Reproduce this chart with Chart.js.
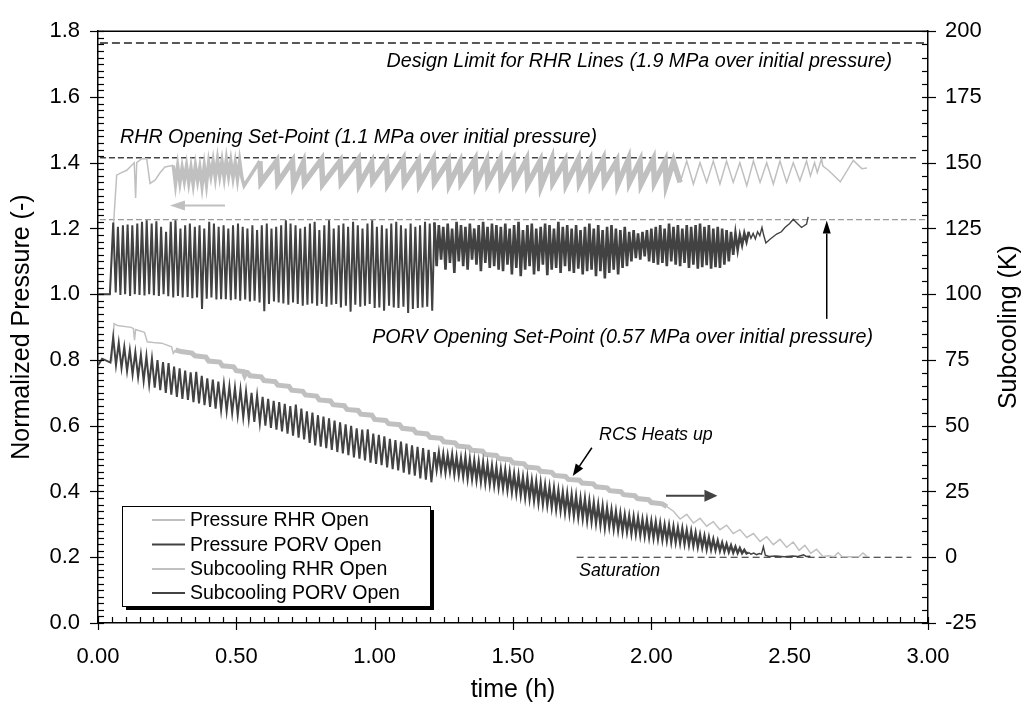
<!DOCTYPE html>
<html>
<head>
<meta charset="utf-8">
<script src="https://cdn.jsdelivr.net/npm/chart.js@4.4.0/dist/chart.umd.min.js"></script>
<style>
  html, body { margin: 0; background: #fff; }
</style>
</head>
<body>
<canvas id="chart" width="1027" height="704"></canvas>
<script>
// ---- axis ticks ----
const xTickValues = [0, 0.5, 1, 1.5, 2, 2.5, 3];
const xTickLabels = ['0.00', '0.50', '1.00', '1.50', '2.00', '2.50', '3.00'];
const pressureTickValues = [0, 0.2, 0.4, 0.6, 0.8, 1.0, 1.2, 1.4, 1.6, 1.8];
const pressureTickLabels = ['0.0', '0.2', '0.4', '0.6', '0.8', '1.0', '1.2', '1.4', '1.6', '1.8'];
const subcoolTickValues = [-25, 0, 25, 50, 75, 100, 125, 150, 175, 200];
const subcoolTickLabels = ['-25', '0', '25', '50', '75', '100', '125', '150', '175', '200'];

const seriesLabels = ['Pressure RHR Open', 'Pressure PORV Open', 'Subcooling RHR Open', 'Subcooling PORV Open'];

// ---- reference levels ----
const designLimit = 1.764;     // normalized pressure
const rhrSetPoint = 1.415;
const porvSetPoint = 1.227;
const saturation = 0;          // K

// ---- Pressure, PORV open (normalized) ----
const pressurePorvStart = [[0, 1.0], [0.043, 1.0]];
const porvTimesA = [0.055,0.064,0.072,0.081,0.090,0.098,0.107,0.116,0.124,0.133,0.142,0.150,0.159,0.168,0.176,0.185,0.194,0.202,0.211,0.220,0.228,0.237,0.246,0.254,0.263,0.272,0.280,0.289,0.298,0.306,0.315,0.324,0.332,0.341,0.350,0.358,0.367,0.376,0.384,0.393,0.402,0.410,0.419,0.428,0.436,0.445,0.454,0.462,0.471,0.480,0.488,0.497,0.506,0.514,0.523,0.532,0.540,0.549,0.558,0.566,0.575,0.584,0.592,0.601,0.610,0.618,0.627,0.636,0.644,0.653,0.662,0.670,0.679,0.688,0.696,0.705,0.714,0.722,0.731,0.740,0.748,0.757,0.766,0.774,0.783,0.792,0.800,0.809,0.818,0.826,0.835,0.844,0.852,0.861,0.870,0.878,0.887,0.896,0.904,0.913,0.922,0.930,0.939,0.948,0.956,0.965,0.974,0.982,0.991,1.000,1.008,1.017,1.026,1.034,1.043,1.052,1.060,1.069,1.078,1.086,1.095,1.104,1.112,1.121,1.130,1.138,1.147,1.156,1.164,1.173,1.182,1.190,1.199,1.208];
const pressurePorvPeaksA = [1.218,1.205,1.21,1.212,1.21,1.215,1.22,1.225,1.215,1.222,1.205,1.19,1.22,1.225,1.2,1.21,1.215,1.205,1.21,1.2,1.22,1.215,1.205,1.21,1.2,1.21,1.215,1.205,1.2,1.21,1.195,1.21,1.215,1.2,1.205,1.21,1.225,1.215,1.21,1.2,1.205,1.215,1.22,1.195,1.21,1.225,1.2,1.21,1.215,1.205,1.22,1.21,1.2,1.215,1.225,1.205,1.21,1.2,1.215,1.22,1.21,1.2,1.215,1.205,1.21,1.22,1.215];
const pressurePorvTroughsA = [1.005,0.998,1.0,0.995,1.0,0.998,0.996,1.0,0.997,0.995,1.0,0.994,0.99,0.995,0.99,0.992,0.988,0.99,0.955,0.986,0.99,0.984,0.985,0.985,0.982,0.985,0.98,0.984,0.978,0.98,0.975,0.948,0.97,0.978,0.975,0.972,0.968,0.975,0.97,0.965,0.968,0.972,0.965,0.97,0.962,0.968,0.97,0.96,0.965,0.947,0.968,0.962,0.965,0.97,0.958,0.96,0.95,0.965,0.96,0.958,0.962,0.943,0.955,0.958,0.96,0.962,0.95];
const bandTimes = [1.216,1.224,1.232,1.240,1.248,1.256,1.264,1.272,1.280,1.288,1.296,1.304,1.312,1.320,1.328,1.336,1.344,1.352,1.360,1.368,1.376,1.384,1.392,1.400,1.408,1.416,1.424,1.432,1.440,1.448,1.456,1.464,1.472,1.480,1.488,1.496,1.504,1.512,1.520,1.528,1.536,1.544,1.552,1.560,1.568,1.576,1.584,1.592,1.600,1.608,1.616,1.624,1.632,1.640,1.648,1.656,1.664,1.672,1.680,1.688,1.696,1.704,1.712,1.720,1.728,1.736,1.744,1.752,1.760,1.768,1.776,1.784,1.792,1.800,1.808,1.816,1.824,1.832,1.840,1.848,1.856,1.864,1.872,1.880,1.888,1.896,1.904,1.912,1.920,1.928,1.936,1.944,1.952,1.960,1.968,1.976,1.984,1.992,2.000,2.008,2.016,2.024,2.032,2.040,2.048,2.056,2.064,2.072,2.080,2.088,2.096,2.104,2.112,2.120,2.128,2.136,2.144,2.152,2.160,2.168,2.176,2.184,2.192,2.200,2.208,2.216,2.224,2.232,2.240,2.248,2.256,2.264,2.272,2.280,2.288,2.296,2.304,2.312,2.320,2.328,2.336,2.344];
const pressurePorvPeaksB = [1.218,1.21,1.205,1.215,1.2,1.22,1.21,1.205,1.215,1.2,1.21,1.22,1.205,1.215,1.21,1.205,1.215,1.2,1.21,1.22,1.195,1.21,1.215,1.2,1.205,1.215,1.21,1.2,1.22,1.205,1.21,1.2,1.21,1.195,1.205,1.215,1.2,1.21,1.195,1.205,1.21,1.2,1.195,1.205,1.19,1.195,1.185,1.19,1.195,1.2,1.205,1.21,1.2,1.215,1.205,1.21,1.2,1.21,1.205,1.21,1.215,1.205,1.21,1.2,1.205,1.2,1.195,1.19,1.185,1.18,1.185];
const pressurePorvTroughsB = [1.085,1.105,1.075,1.095,1.065,1.1,1.085,1.075,1.105,1.09,1.07,1.095,1.08,1.085,1.075,1.07,1.09,1.06,1.08,1.055,1.075,1.085,1.06,1.07,1.09,1.058,1.075,1.08,1.065,1.085,1.07,1.065,1.078,1.06,1.07,1.075,1.055,1.07,1.048,1.065,1.075,1.06,1.08,1.085,1.1,1.11,1.105,1.115,1.1,1.095,1.09,1.095,1.085,1.1,1.09,1.085,1.095,1.08,1.09,1.078,1.082,1.088,1.078,1.082,1.08,1.09,1.1,1.12,1.135,1.15,1.16];
const pressurePorvTail = [[2.352,1.19],[2.36,1.17],[2.368,1.185],[2.376,1.168],[2.384,1.19],[2.392,1.178],[2.40,1.203],[2.406,1.18],[2.414,1.156],[2.43,1.168],[2.453,1.183],[2.47,1.19],[2.483,1.203],[2.50,1.215],[2.513,1.228],[2.528,1.215],[2.543,1.203],[2.561,1.213],[2.567,1.235]];

// ---- Pressure, RHR open (normalized) ----
const pressureRhr = [[0,1.0],[0.043,1.0],[0.057,1.224],[0.0675,1.362],[0.085,1.37],[0.104,1.377],[0.122,1.392],[0.131,1.40],[0.136,1.293],[0.14,1.40],[0.158,1.412],[0.176,1.412],[0.188,1.337],[0.206,1.347],[0.225,1.37],[0.242,1.387],[0.26,1.39],[0.272,1.392],
  [0.28,1.335],[0.288,1.39],[0.296,1.34],[0.304,1.385],[0.312,1.345],[0.32,1.39],[0.328,1.34],[0.336,1.385],[0.344,1.335],[0.352,1.39],[0.36,1.345],[0.368,1.385],[0.376,1.33],[0.384,1.39],[0.392,1.335],[0.40,1.40],[0.408,1.36],[0.416,1.405],[0.424,1.355],[0.432,1.41],[0.44,1.36],[0.448,1.405],[0.456,1.355],[0.464,1.41],[0.472,1.36],[0.48,1.405],[0.488,1.355],[0.496,1.40],[0.504,1.35],[0.512,1.405],[0.52,1.355],[0.528,1.33],
  [0.585,1.405],[0.589,1.34],[0.646,1.405],[0.65,1.34],[0.703,1.405],[0.707,1.335],[0.742,1.40],[0.746,1.34],[0.808,1.41],[0.812,1.335],[0.875,1.405],[0.879,1.34],[0.941,1.41],[0.945,1.335],[0.989,1.40],[0.993,1.345],[1.043,1.405],[1.047,1.335],[1.103,1.41],[1.107,1.34],[1.158,1.405],[1.162,1.335],[1.212,1.41],[1.216,1.34],[1.266,1.405],[1.27,1.335],[1.308,1.40],[1.312,1.34],[1.363,1.41],[1.367,1.335],[1.405,1.405],[1.409,1.34],[1.453,1.41],[1.457,1.335],[1.501,1.405],[1.505,1.34],[1.549,1.41],[1.553,1.335],[1.598,1.405],[1.602,1.33],[1.64,1.41],[1.644,1.34],[1.688,1.405],[1.692,1.335],[1.736,1.41],[1.74,1.34],[1.778,1.405],[1.782,1.335],[1.826,1.41],[1.83,1.34],[1.875,1.405],[1.879,1.335],[1.917,1.41],[1.921,1.34],[1.959,1.405],[1.963,1.335],[2.007,1.41],[2.011,1.34],[2.05,1.405],[2.054,1.335],[2.08,1.405],
  [2.104,1.34],[2.128,1.405],[2.152,1.335],[2.176,1.40],[2.2,1.34],[2.224,1.405],[2.248,1.335],[2.272,1.405],[2.296,1.34],[2.32,1.40],[2.345,1.33],[2.369,1.405],[2.393,1.34],[2.417,1.40],[2.441,1.335],[2.465,1.405],[2.489,1.34],[2.513,1.40],[2.537,1.345],[2.561,1.405],[2.575,1.36],[2.59,1.40],[2.60,1.37],[2.615,1.412],[2.62,1.39],[2.64,1.377],[2.683,1.342],[2.73,1.407],[2.761,1.382],[2.779,1.384]];

// ---- Subcooling, PORV open (K) ----
const subcoolPorvStart = [[0,73],[0.015,75.5],[0.045,74]];
const subcoolTimesA = [0.055,0.065,0.075,0.085,0.095,0.105,0.115,0.125,0.135,0.145,0.155,0.165,0.175,0.185,0.195,0.205,0.215,0.225,0.235,0.245,0.255,0.265,0.275,0.285,0.295,0.305,0.315,0.325,0.335,0.345,0.355,0.365,0.375,0.385,0.395,0.405,0.415,0.425,0.435,0.445,0.455,0.465,0.475,0.485,0.495,0.505,0.515,0.525,0.535,0.545,0.555,0.565,0.575,0.585,0.595,0.605,0.615,0.625,0.635,0.645,0.655,0.665,0.675,0.685,0.695,0.705,0.715,0.725,0.735,0.745,0.755,0.765,0.775,0.785,0.795,0.805,0.815,0.825,0.835,0.845,0.855,0.865,0.875,0.885,0.895,0.905,0.915,0.925,0.935,0.945,0.955,0.965,0.975,0.985,0.995,1.005,1.015,1.025,1.035,1.045,1.055,1.065,1.075,1.085,1.095,1.105,1.115,1.125,1.135,1.145,1.155,1.165,1.175,1.185,1.195,1.205];
const subcoolPorvPeaksA = [83.7,81.5,80,78.8,78,77,76.5,75.5,75,74.2,73.8,72.5,71.8,71,70.3,70.5,69,68,67.5,66.8,65.8,65,64.5,63.8,63,62.5,61.5,61,60.2,59.5,59,58.3,57.5,58,56.5,55.5,55,54,53.5,52.8,52,51.3,50.5,50,49,48.5,48.6,47,46.5,46,45,44.5,44,43.2,42.5,42,41.5,40.8];
const subcoolPorvTroughsA = [73.1,72,70.8,69.5,68.5,67,65.8,64.5,63.5,62.5,61.8,61,60.2,59.8,59,58.5,57.8,57.2,56.5,56,55.5,54.8,54,53.2,52.5,51.5,51,50,49.2,48.5,47.8,47,46.2,45.5,44.8,43.5,42.5,42,41.5,40.8,40,39.5,38.8,38,37.5,36.8,36,35.5,35,34.2,33.5,33,32.2,31.5,31,30,29.5,28.5];
const subcoolPorvPeaksB = [40,39.5,39,38.5,38.8,38,37.5,37.8,37,36.5,36,35.8,35,34.5,34,33.2,33,32.2,31.5,31,30.2,30,29,28.5,28,27.2,26.5,26,25.2,24.5,24,23.5,23,22.2,22,21.2,20.5,19.8,19.2,18.5,17.8,17.2,16.5,16,15.5,15.2,14.8,14.2,14,13.5,13.2,12.8,12.2,12,11.5,11,10.8,10.2,9.8,9.2,8.5,8,7.5,6.8,6.2,5.5,5,4.5,4,3.5,2.8];
const subcoolPorvTroughsB = [33.5,33,32.5,32.8,31.8,31.5,31,30.2,30,29.5,29,28.5,28,27.5,26.8,26.5,25.8,25,24.5,23.8,23,22.5,21.8,21,20.5,20,19.2,18.5,18,17.2,16.8,16,15.5,15,14.2,13.8,13.2,12.5,11.5,11.8,11,10.5,10,9.8,9.2,9,8.5,8.2,7.8,7.5,7.2,6.8,6.5,6,5.8,5.5,5.2,4.8,4.5,4,3.8,3.2,3,2.8,2.5,2.2,2,1.8,1.6,1.5,1.4];
const subcoolPorvTail = [[2.352,1.8],[2.36,1.2],[2.37,1.6],[2.38,1.0],[2.39,1.4],[2.398,1.2],[2.405,4],[2.412,0.8],[2.425,0.3],[2.45,0.5],[2.48,0.2],[2.51,0.5],[2.53,0.3],[2.55,0.9],[2.56,0.3],[2.575,0.4]];

// ---- Subcooling, RHR open (K) ----
const subcoolRhr = [[0.05,74.5],[0.058,88.8],[0.07,88.1],[0.12,87.4],[0.128,86.9],[0.132,82.5],[0.136,86.6],[0.168,85.5],[0.178,81.9],[0.2,81.6],[0.23,81.4],[0.266,80],[0.272,77.5],[0.28,78.8],
  [0.30,78.2],[0.34,77.6],[0.35,76.6],[0.39,76.1],[0.40,74.6],[0.44,74.2],[0.45,72.8],[0.49,72.4],[0.50,70.9],[0.525,70.6],[0.53,69.2],[0.535,70.3],[0.54,70.2],[0.55,69.0],[0.59,68.6],[0.60,67.2],[0.64,66.8],[0.65,65.4],[0.69,65.0],[0.70,63.5],[0.74,63.1],[0.75,61.7],[0.79,61.3],[0.80,59.8],[0.84,59.4],[0.85,58.0],[0.89,57.6],[0.90,56.2],[0.94,55.8],[0.95,54.4],[0.99,54.0],[1.00,52.4],[1.04,52.0],[1.05,50.8],[1.09,50.4],[1.10,49.0],[1.14,48.6],[1.15,47.3],[1.19,46.9],[1.20,45.6],[1.24,45.2],[1.25,43.9],[1.29,43.5],[1.30,42.3],[1.34,41.9],[1.35,40.7],[1.39,40.3],[1.40,39.1],[1.44,38.7],[1.45,37.5],[1.49,37.1],[1.50,35.9],[1.54,35.5],[1.55,34.3],[1.59,33.9],[1.60,32.7],[1.64,32.3],[1.65,31.1],[1.69,30.7],[1.70,29.6],[1.74,29.3],[1.75,28.2],[1.79,27.9],[1.80,26.8],[1.84,26.4],[1.85,25.3],[1.89,24.9],[1.90,23.8],[1.94,23.4],[1.95,22.3],[1.99,21.9],[2.00,20.8],[2.04,20.3],[2.056,19.2],
  [2.08,17.5],[2.104,14.5],[2.128,16.3],[2.152,13],[2.176,14.8],[2.2,11.8],[2.224,13.5],[2.248,10.5],[2.272,12.2],[2.296,9],[2.32,10.5],[2.345,7.5],[2.369,9],[2.393,6],[2.417,7.8],[2.441,4.8],[2.465,6.8],[2.489,3.8],[2.513,5.8],[2.534,2.6],[2.555,4.5],[2.576,1.5],[2.597,3],[2.62,0.3],[2.64,0.6],[2.66,0.2],[2.675,1.8],[2.69,0.2],[2.75,0.2],[2.765,1.6],[2.78,0.3]];

// ---- helpers to build point tables ----
const pairs = list => list.map(([x, y]) => ({ x, y }));
const zip = (times, vals) => times.map((t, i) => ({ x: t, y: vals[i] }));
function interleave(a, b) {
  const out = [];
  a.forEach((v, i) => { out.push(v); if (i < b.length) out.push(b[i]); });
  return out;
}

const LIGHT = '#c0c0c0';
const DARK = '#424242';
const FONT = '"Liberation Sans", Arial, Helvetica, sans-serif';

const pressurePorvData = [
  ...pairs(pressurePorvStart),
  ...zip(porvTimesA, interleave(pressurePorvPeaksA, pressurePorvTroughsA)),
  ...zip(bandTimes, interleave(pressurePorvPeaksB, pressurePorvTroughsB)),
  ...pairs(pressurePorvTail)
];
const subcoolPorvData = [
  ...pairs(subcoolPorvStart),
  ...zip(subcoolTimesA, interleave(subcoolPorvPeaksA, subcoolPorvTroughsA)),
  ...zip(bandTimes, interleave(subcoolPorvPeaksB, subcoolPorvTroughsB)),
  ...pairs(subcoolPorvTail)
];

// line width by time range (thick where the trace is a dense band)
const widthBy = ranges => ctx => {
  const x0 = ctx.p0.parsed.x;
  for (const [a, b, w] of ranges) if (x0 >= a && x0 < b) return w;
  return undefined;
};

function refLine(x0, x1, y, axis, color, dash, width) {
  return {
    data: [{ x: x0, y }, { x: x1, y }], yAxisID: axis, borderColor: color,
    borderDash: dash, borderWidth: width, pointRadius: 0, order: 5
  };
}

// ---- annotations (data coordinates, left axis) ----
const notes = [
  { text: 'Design Limit for RHR Lines (1.9 MPa over initial pressure)', t: 2.87, v: 1.69, align: 'right', size: 19.7 },
  { text: 'RHR Opening Set-Point (1.1 MPa over initial pressure)', t: 0.0795, v: 1.459, align: 'left', size: 19.7 },
  { text: 'PORV Opening Set-Point (0.57 MPa over initial pressure)', t: 2.801, v: 0.851, align: 'right', size: 19.7 },
  { text: 'RCS Heats up', t: 1.811, v: 0.558, align: 'left', size: 17.8 },
  { text: 'Saturation', t: 1.739, v: 0.143, align: 'left', size: 17.8 }
];
const arrows = [
  { from: [0.459, 1.27], to: [0.26, 1.27], color: LIGHT, w: 2, head: 15, half: 5 },
  { from: [2.053, 0.387], to: [2.239, 0.387], color: DARK, w: 2, head: 13, half: 6 },
  { from: [2.634, 0.925], to: [2.634, 1.224], color: '#000', w: 1.5, head: 13, half: 4 },
  { from: [1.785, 0.533], to: [1.716, 0.447], color: '#000', w: 1.5, head: 12, half: 4.5 }
];

const decorations = {
  id: 'decorations',
  afterDraw(chart) {
    const { ctx, chartArea: a, scales } = chart;
    const xs = scales.x, yl = scales.y, yr = scales.y2;
    const seg = (x1, y1, x2, y2) => { ctx.beginPath(); ctx.moveTo(x1, y1); ctx.lineTo(x2, y2); ctx.stroke(); };
    ctx.save();

    // frame top
    ctx.strokeStyle = '#000';
    ctx.lineWidth = 1.5;
    seg(a.left, a.top, a.right, a.top);

    // ticks: minor inside, major crossing
    ctx.lineWidth = 1.2;
    for (let i = 0; i <= 60; i++) {
      const px = Math.round(xs.getPixelForValue(i * 0.05)) + 0.5;
      seg(px, a.bottom - 6, px, a.bottom + (i % 10 === 0 ? 7 : 0));
    }
    for (let i = 0; i <= 90; i++) {
      const py = Math.round(yl.getPixelForValue(i * 0.02)) + 0.5;
      seg(a.left - (i % 10 === 0 ? 8 : 0), py, a.left + 6, py);
    }
    for (let i = 0; i <= 45; i++) {
      const py = Math.round(yr.getPixelForValue(-25 + i * 5)) + 0.5;
      seg(a.right - 6, py, a.right + (i % 5 === 0 ? 8 : 0), py);
    }

    // text notes
    ctx.fillStyle = '#000';
    ctx.textBaseline = 'alphabetic';
    notes.forEach(n => {
      ctx.font = `italic ${n.size}px ${FONT}`;
      ctx.textAlign = n.align;
      ctx.fillText(n.text, xs.getPixelForValue(n.t), yl.getPixelForValue(n.v));
    });

    // arrows
    arrows.forEach(ar => {
      const x1 = xs.getPixelForValue(ar.from[0]), y1 = yl.getPixelForValue(ar.from[1]);
      const x2 = xs.getPixelForValue(ar.to[0]), y2 = yl.getPixelForValue(ar.to[1]);
      const ang = Math.atan2(y2 - y1, x2 - x1);
      const bx = x2 - ar.head * Math.cos(ang), by = y2 - ar.head * Math.sin(ang);
      ctx.strokeStyle = ar.color; ctx.fillStyle = ar.color; ctx.lineWidth = ar.w;
      seg(x1, y1, bx, by);
      ctx.beginPath();
      ctx.moveTo(x2, y2);
      ctx.lineTo(bx + ar.half * Math.sin(ang), by - ar.half * Math.cos(ang));
      ctx.lineTo(bx - ar.half * Math.sin(ang), by + ar.half * Math.cos(ang));
      ctx.closePath();
      ctx.fill();
    });

    // legend box with shadow
    const lx = 122, ly = 506, lw = 308, lh = 100;
    ctx.fillStyle = '#000';
    ctx.fillRect(lx + 4, ly + 4, lw, lh);
    ctx.fillStyle = '#fff';
    ctx.fillRect(lx, ly, lw, lh);
    ctx.strokeStyle = '#000'; ctx.lineWidth = 1;
    ctx.strokeRect(lx + 0.5, ly + 0.5, lw, lh);
    const rows = [520, 544.5, 569, 593];
    ctx.font = `19.5px ${FONT}`;
    ctx.textAlign = 'left'; ctx.textBaseline = 'middle';
    chart.data.datasets.slice(0, 4).forEach((ds, i) => {
      ctx.strokeStyle = ds.borderColor; ctx.lineWidth = 2;
      seg(152, rows[i], 185, rows[i]);
      ctx.fillStyle = '#000';
      ctx.fillText(ds.label, 190, rows[i] + 1);
    });

    // axis titles
    ctx.font = `25px ${FONT}`;
    ctx.textAlign = 'center'; ctx.textBaseline = 'middle';
    ctx.fillText('time (h)', (a.left + a.right) / 2, 690);
    [[22, 'Normalized Pressure (-)'], [1009, 'Subcooling (K)']].forEach(([cx, t]) => {
      ctx.save();
      ctx.translate(cx, (a.top + a.bottom) / 2);
      ctx.rotate(-Math.PI / 2);
      ctx.fillText(t, 0, 0);
      ctx.restore();
    });
    ctx.restore();
  }
};

const tickFont = { family: FONT, size: 22 };

new Chart(document.getElementById('chart'), {
  type: 'line',
  data: {
    datasets: [
      { label: seriesLabels[0], data: pairs(pressureRhr), yAxisID: 'y', borderColor: LIGHT, borderWidth: 1.5,
        pointRadius: 0, order: 2, segment: { borderWidth: widthBy([[0.272, 0.53, 3.5], [0.53, 2.082, 5.5]]) } },
      { label: seriesLabels[1], data: pressurePorvData, yAxisID: 'y', borderColor: DARK, borderWidth: 2,
        pointRadius: 0, order: 0, segment: { borderWidth: widthBy([[1.21, 2.35, 2.6], [2.35, 3, 1.4]]) } },
      { label: seriesLabels[2], data: pairs(subcoolRhr), yAxisID: 'y2', borderColor: LIGHT, borderWidth: 1.5,
        pointRadius: 0, order: 3, segment: { borderWidth: widthBy([[0.28, 2.056, 5]]) } },
      { label: seriesLabels[3], data: subcoolPorvData, yAxisID: 'y2', borderColor: DARK, borderWidth: 2,
        pointRadius: 0, order: 1, segment: { borderWidth: widthBy([[1.21, 2.35, 2.4], [2.35, 3, 1.4]]) } },
      refLine(0.007, 3, designLimit, 'y', '#222', [8, 4], 1.4),
      refLine(0.007, 2.965, rhrSetPoint, 'y', '#444', [6, 3], 1.4),
      refLine(0.007, 3, porvSetPoint, 'y', '#9a9a9a', [6, 3], 1.4),
      refLine(1.73, 2.94, saturation, 'y2', '#222', [7, 4], 1.2)
    ]
  },
  options: {
    responsive: false,
    animation: false,
    layout: { padding: { top: 20, left: 0, right: 0, bottom: 0 } },
    plugins: { legend: { display: false }, tooltip: { enabled: false } },
    elements: { line: { tension: 0 } },
    scales: {
      x: {
        type: 'linear', min: 0, max: 3,
        afterBuildTicks: s => { s.ticks = xTickValues.map(v => ({ value: v })); },
        afterFit: s => { s.height = 81; },
        ticks: { callback: (v, i) => xTickLabels[i], font: tickFont, color: '#000', padding: 21, maxRotation: 0, autoSkip: false },
        grid: { display: true, drawOnChartArea: false, drawTicks: false },
        border: { display: true, color: '#000', width: 1.5 }
      },
      y: {
        type: 'linear', position: 'left', min: 0, max: 1.8,
        afterBuildTicks: s => { s.ticks = pressureTickValues.map(v => ({ value: v })); },
        afterFit: s => { s.width = 98; },
        ticks: { callback: (v, i) => pressureTickLabels[i], font: tickFont, color: '#000', padding: 18, autoSkip: false },
        grid: { display: true, drawOnChartArea: false, drawTicks: false },
        border: { display: true, color: '#000', width: 1.5 }
      },
      y2: {
        type: 'linear', position: 'right', min: -25, max: 200,
        afterBuildTicks: s => { s.ticks = subcoolTickValues.map(v => ({ value: v })); },
        afterFit: s => { s.width = 99; },
        ticks: { callback: (v, i) => subcoolTickLabels[i], font: tickFont, color: '#000', padding: 17, autoSkip: false },
        grid: { display: true, drawOnChartArea: false, drawTicks: false },
        border: { display: true, color: '#000', width: 1.5 }
      }
    }
  },
  plugins: [decorations]
});
</script>
</body>
</html>
